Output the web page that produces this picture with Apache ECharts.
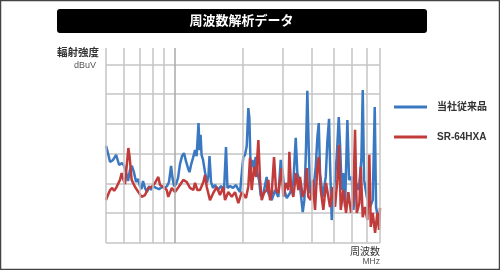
<!DOCTYPE html>
<html>
<head>
    <meta charset="utf-8">
    <title>周波数解析データ</title>
    <script src="https://cdn.jsdelivr.net/npm/echarts@6/dist/echarts.min.js"></script>
    <style>
        html, body { margin: 0; padding: 0; background: #fff; }
        #chart { width: 500px; height: 270px; }
    </style>
</head>
<body>
<div id="chart"></div>
<script type="text/javascript">
    // 周波数 (MHz) と 輻射強度 (dBuV) — 画像から読み取った値
    var blueFreq = [50.0, 51.0, 52.1, 53.7, 55.4, 57.1, 58.8, 60.0, 61.2, 62.5, 63.7, 65.0, 66.3, 67.8, 69.2,
        70.5, 71.6, 72.7, 74.2, 75.7, 77.3, 78.8, 80.4, 82.9, 85.5, 88.2, 90.8, 92.7, 94.6, 96.6, 98.0, 99.6,
        101.5, 103.6, 105.7, 107.9, 110.1, 112.3, 114.6, 116.4, 118.2, 120.6, 123.1, 125.0, 126.3, 127.5, 128.8,
        130.2, 131.5, 133.5, 136.2, 139.0, 141.1, 142.5, 144.7, 147.6, 150.7, 155.3, 160.1, 165.1, 168.4, 170.9,
        175.4, 180.8, 186.4, 190.2, 194.1, 198.1, 200.7, 204.1, 207.7, 211.1, 213.3, 216.2, 219.7, 223.6, 227.5,
        231.2, 235.3, 239.3, 244.9, 254.2, 258.4, 267.5, 276.6, 286.0, 293.0, 297.7, 303.9, 311.4, 321.9, 332.8,
        341.0, 346.6, 353.7, 358.7, 366.0, 372.1, 378.5, 383.5, 388.9, 394.1, 407.5, 417.5, 424.3, 430.4, 436.1,
        448.1, 462.0, 469.5, 477.7, 482.5, 490.9, 502.5, 516.4, 527.0, 534.0, 543.3, 552.1, 561.7, 575.0, 585.0,
        601.2, 611.1, 627.8, 645.2, 662.4, 671.8, 680.9, 700.0, 723.4, 743.4, 758.5, 768.8, 786.9, 800];
    var blueLevel = [32.6, 30.2, 27.2, 27.9, 29.6, 26.2, 26.9, 25.9, 23.8, 20.8, 24.5, 25.9, 23.8, 20.5, 21.5,
        19.1, 18.1, 20.8, 18.5, 17.1, 19.1, 17.8, 19.1, 18.5, 18.1, 18.8, 18.5, 19.1, 20.5, 25.9, 21.8, 19.1,
        19.8, 21.8, 26.5, 29.2, 30.2, 27.5, 25.2, 23.8, 26.2, 28.6, 31.2, 29.2, 34.6, 40.3, 31.2,
        36.3, 29.6, 27.9, 23.8, 20.2, 22.8, 29.2, 20.5, 18.5, 19.5, 17.8, 19.1, 17.8, 32.2, 18.5,
        19.1, 18.5, 19.5, 18.1, 17.1, 24.5, 28.9, 29.6, 32.6, 45.3, 42.0, 24.5, 27.9, 25.5, 28.9,
        23.5, 21.2, 15.8, 16.1, 22.2, 16.8, 14.4, 17.8, 15.5, 27.9, 25.2, 17.8, 15.1, 16.8, 20.2,
        35.3, 23.5, 21.2, 16.8, 10.4, 14.4, 32.2, 51.1, 32.2, 16.8, 17.8, 25.5, 35.3, 40.3, 23.5,
        15.5, 22.2, 33.9, 41.7, 26.9, 7.7, 17.8, 28.9, 42.3, 32.9, 17.8, 23.5, 12.1, 41.3, 21.2,
        22.2, 11.1, 20.2, 17.8, 27.9, 51.4, 21.2, 15.5, 12.1, 14.4, 45.7, 12.1, 7.7, 8.7];

    var redFreq = [50.0, 51.0, 52.1, 53.2, 54.3, 55.4, 56.5, 57.6, 58.6, 59.5, 60.6, 61.7, 62.7, 63.5, 64.8,
        67.1, 69.4, 71.7, 74.2, 76.7, 79.4, 82.1, 84.9, 86.4, 89.3, 92.4, 93.9, 97.3, 100.5, 105.7, 109.3,
        113.1, 117.0, 121.0, 123.1, 126.0, 129.5, 133.9, 136.2, 138.6, 143.2, 148.1, 153.3, 158.5, 163.9,
        166.7, 172.4, 178.5, 184.5, 190.8, 197.5, 202.1, 206.2, 211.1, 214.7, 218.4, 223.6, 228.2, 233.6,
        237.6, 241.7, 247.4, 254.2, 258.4, 262.9, 267.5, 273.8, 279.4, 286.0, 290.9, 296.0, 300.8, 309.1,
        316.4, 319.7, 325.2, 332.8, 342.1, 350.1, 356.2, 366.0, 374.7, 381.2, 387.4, 396.9, 404.9, 414.6,
        424.3, 430.4, 439.2, 450.9, 463.4, 474.3, 482.5, 495.9, 507.6, 519.6, 528.6, 537.8, 552.1, 567.4,
        580.8, 596.9, 611.1, 621.5, 632.3, 649.2, 658.4, 671.8, 687.7, 703.9, 718.4, 728.5, 743.4, 761.0,
        779.0, 792.5, 800];
    var redLevel = [14.4, 16.1, 17.8, 18.5, 17.5, 18.5, 19.1, 21.2, 23.5, 21.5, 19.8, 26.2, 31.9, 28.9, 21.2,
        18.8, 17.1, 15.5, 16.1, 18.5, 18.8, 20.2, 22.2, 19.5, 18.8, 17.8, 15.5, 18.5, 17.1, 19.5, 21.2,
        20.5, 18.5, 17.8, 20.2, 17.8, 17.8, 20.5, 22.8, 18.8, 14.4, 16.8, 18.8, 16.1, 18.8,
        14.4, 17.1, 15.5, 17.1, 13.4, 17.1, 16.1, 15.1, 19.1, 28.6, 17.8, 25.5, 22.2, 34.6,
        21.2, 14.4, 16.8, 17.8, 21.2, 14.4, 16.8, 28.9, 17.8, 16.8, 21.2, 25.2, 15.5, 20.2,
        17.8, 30.6, 18.8, 15.5, 23.5, 17.8, 22.2, 15.5, 17.8, 25.2, 15.5, 14.4, 21.2, 11.1,
        25.5, 28.9, 17.8, 11.1, 20.2, 15.5, 12.1, 18.8, 12.1, 21.2, 32.9, 11.1, 17.8, 10.1,
        17.1, 10.1, 15.5, 38.0, 10.1, 13.4, 25.5, 8.7, 12.1, 7.7, 29.6, 5.4, 10.1, 3.4,
        10.1, 4.4, 11.8];

    var seriesNames = ['当社従来品', 'SR-64HXA'];
    var gridFreqs = [50, 60, 70, 80, 90, 100, 200, 300, 400, 500, 600, 700, 800];

    var font = "'Liberation Sans', 'Noto Sans CJK JP', sans-serif";

    function pairs(xs, ys) {
        return xs.map(function (x, i) { return [x, ys[i]]; });
    }

    var legendText = {fontSize: 10, fontWeight: 'bold', color: '#333', lineHeight: 12, fontFamily: font, padding: [0, 0, 0, 5]};

    var myChart = echarts.init(document.getElementById('chart'), null, {renderer: 'canvas'});

    myChart.setOption({
        animation: false,
        textStyle: {fontFamily: font},
        grid: {left: 106, right: 120, top: 48, bottom: 27},
        xAxis: {
            type: 'log',
            logBase: 10,
            min: 50,
            max: 800,
            axisLine: {show: false},
            axisTick: {show: false},
            axisLabel: {show: false},
            splitLine: {show: false}
        },
        yAxis: {
            type: 'value',
            min: 0,
            max: 65.5,
            interval: 10,
            axisLine: {show: false},
            axisTick: {show: false},
            axisLabel: {show: false},
            splitLine: {show: true, showMaxLine: false, lineStyle: {color: '#c4c4c4', width: 1.5}}
        },
        legend: [{
            data: [seriesNames[0]],
            left: 394, top: 101, padding: 0,
            icon: 'rect', itemWidth: 33, itemHeight: 3,
            textStyle: legendText
        }, {
            data: [seriesNames[1]],
            left: 394, top: 131, padding: 0,
            icon: 'rect', itemWidth: 33, itemHeight: 3,
            textStyle: legendText
        }],
        graphic: [
            {type: 'rect', shape: {x: 0.5, y: 0.5, width: 499, height: 269}, style: {fill: 'none', stroke: '#444', lineWidth: 1.5}},
            {type: 'rect', shape: {x: 57, y: 9, width: 370, height: 24, r: 3}, style: {fill: '#000'}},
            {type: 'text', x: 241.5, y: 21, style: {text: '周波数解析データ', fill: '#fff', font: 'bold 13px ' + font, textAlign: 'center', textVerticalAlign: 'middle'}},
            {type: 'text', x: 99, y: 53, style: {text: '輻射強度', fill: '#333', font: 'bold 10.5px ' + font, textAlign: 'right', textVerticalAlign: 'middle'}},
            {type: 'text', x: 96, y: 66, style: {text: 'dBuV', fill: '#555', font: '9px ' + font, textAlign: 'right', textVerticalAlign: 'middle'}},
            {type: 'text', x: 380, y: 252, style: {text: '周波数', fill: '#333', font: '10px ' + font, textAlign: 'right', textVerticalAlign: 'middle'}},
            {type: 'text', x: 380, y: 262, style: {text: 'MHz', fill: '#555', font: '8.5px ' + font, textAlign: 'right', textVerticalAlign: 'middle'}}
        ],
        series: [{
            name: seriesNames[0],
            type: 'line',
            color: '#3b78c2',
            showSymbol: false,
            lineStyle: {width: 2.5, color: '#3b78c2'},
            data: pairs(blueFreq, blueLevel),
            markLine: {
                silent: true,
                symbol: 'none',
                label: {show: false},
                lineStyle: {color: '#c4c4c4', width: 1.5, type: 'solid'},
                data: gridFreqs.map(function (f) {
                    return f === 100 ? {xAxis: f, lineStyle: {color: '#a8a8a8'}} : {xAxis: f};
                })
            },
            z: 2
        }, {
            name: seriesNames[1],
            type: 'line',
            color: '#c23b3b',
            showSymbol: false,
            lineStyle: {width: 2.5, color: '#c23b3b'},
            data: pairs(redFreq, redLevel),
            z: 3
        }]
    });
</script>
</body>
</html>
